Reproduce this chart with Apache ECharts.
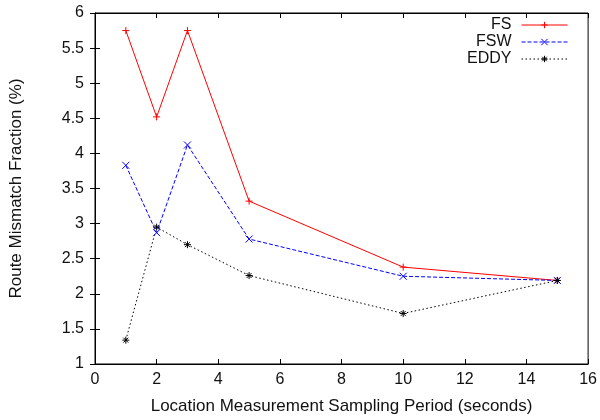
<!DOCTYPE html>
<html>
<head>
<meta charset="utf-8">
<script src="https://cdn.jsdelivr.net/npm/echarts@6/dist/echarts.min.js"></script>
<style>
  html, body { margin: 0; padding: 0; background: #fff; }
  #chart { width: 600px; height: 420px; }
</style>
</head>
<body>
<div id="chart"></div>
<script>
// sampling periods (seconds)
var periods = [1, 2, 3, 5, 10, 15];
// route mismatch fraction (%)
var fsValues = [5.75, 4.52, 5.75, 3.32, 2.38, 2.19];
var fswValues = [3.83, 2.87, 4.12, 2.78, 2.25, 2.19];
var eddyValues = [1.34, 2.95, 2.70, 2.26, 1.72, 2.19];
var seriesNames = ["FS", "FSW", "EDDY"];

var plusPath = "path://M5,0L5,10M0,5L10,5";
var crossPath = "path://M0,0L10,10M10,0L0,10";
var starPath = "path://M5,0L5,10M0,5L10,5M1.5,1.5L8.5,8.5M8.5,1.5L1.5,8.5";

function pairs(vals) {
  return periods.map(function (p, i) { return [p, vals[i]]; });
}

function makeSeries(name, vals, color, symbol, dash) {
  return {
    name: name,
    type: "line",
    data: pairs(vals),
    symbol: symbol,
    symbolSize: 7,
    showSymbol: true,
    lineStyle: { color: color, width: 1, type: dash },
    itemStyle: { color: "transparent", borderColor: color, borderWidth: 1 },
    emphasis: { disabled: true },
    z: 3
  };
}

var font = "Liberation Sans, Arial, sans-serif";
var myChart = echarts.init(document.getElementById("chart"));
var tickSide = { show: true, inside: true, length: 5, lineStyle: { color: "#000" } };

var option = {
  animation: false,
  backgroundColor: "#fff",
  textStyle: { fontFamily: font },
  grid: { left: 92, right: 11, top: 13, bottom: 54, show: true, borderColor: "#000", borderWidth: 1, backgroundColor: "transparent" },
  legend: {
    orient: "vertical",
    right: 32,
    top: 17,
    padding: 0,
    align: "right",
    itemWidth: 46,
    itemHeight: 8,
    itemGap: 1,
    lineStyle: { width: 1 },
    itemStyle: { borderWidth: 1 },
    textStyle: { fontSize: 16, color: "#111", fontFamily: font, padding: [0, 5, 0, 0] },
    data: seriesNames
  },
  xAxis: [
    {
      type: "value", min: 0, max: 16, interval: 2,
      name: "Location Measurement Sampling Period (seconds)",
      nameLocation: "middle", nameGap: 34,
      nameTextStyle: { fontSize: 17, color: "#111" },
      axisLine: { lineStyle: { color: "#000" } },
      axisTick: tickSide,
      axisLabel: { fontSize: 16, color: "#111", margin: 8 },
      splitLine: { show: false }
    },
    {
      type: "value", min: 0, max: 16, interval: 2, position: "top",
      axisLine: { lineStyle: { color: "#000" } },
      axisTick: tickSide, axisLabel: { show: false }, splitLine: { show: false }
    }
  ],
  yAxis: [
    {
      type: "value", min: 1, max: 6, interval: 0.5,
      name: "Route Mismatch Fraction (%)",
      nameLocation: "middle", nameGap: 70,
      nameTextStyle: { fontSize: 17, color: "#111" },
      axisLine: { show: true, lineStyle: { color: "#000" } },
      axisTick: tickSide,
      axisLabel: { fontSize: 16, color: "#111", margin: 11 },
      splitLine: { show: false }
    },
    {
      type: "value", min: 1, max: 6, interval: 0.5, position: "right",
      axisLine: { show: true, lineStyle: { color: "#000" } },
      axisTick: tickSide, axisLabel: { show: false }, splitLine: { show: false }
    }
  ],
  series: [
    makeSeries("FS", fsValues, "#ff0000", plusPath, "solid"),
    makeSeries("FSW", fswValues, "#0000ff", crossPath, [4, 2]),
    makeSeries("EDDY", eddyValues, "#000000", starPath, [1.5, 2.5])
  ]
};

// 使用刚指定的配置项和数据显示图表。
myChart.setOption(option);
</script>
</body>
</html>
